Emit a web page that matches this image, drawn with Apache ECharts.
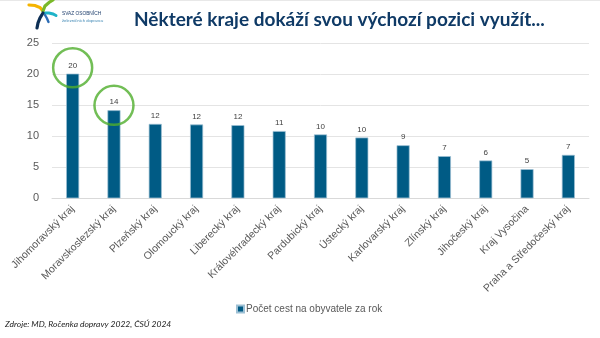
<!DOCTYPE html>
<html>
<head>
<meta charset="utf-8">
<script src="https://cdn.jsdelivr.net/npm/echarts@6/dist/echarts.min.js"></script>
<style>
  html, body { margin: 0; padding: 0; background: #fff; }
  #chart { width: 600px; height: 338px; }
</style>
</head>
<body>
<div id="chart"></div>
<script>
// ---- data ----
const categories = [
  'Jihomoravský kraj', 'Moravskoslezský kraj', 'Plzeňský kraj', 'Olomoucký kraj',
  'Liberecký kraj', 'Královéhradecký kraj', 'Pardubický kraj', 'Ústecký kraj',
  'Karlovarský kraj', 'Zlínský kraj', 'Jihočeský kraj', 'Kraj Vysočina',
  'Praha a Středočeský kraj'
];
const tripsPerCapita = [20.1, 14.2, 12.0, 11.9, 11.8, 10.85, 10.3, 9.8, 8.55, 6.8, 6.1, 4.7, 7.0];
const seriesName = 'Počet cest na obyvatele za rok';
// highlight circles (category index, value at circle centre)
const highlightCircles = [[0, 21.05], [1, 15.0]];
const yTicks = { min: 0, max: 25, interval: 5 };
const titleText = 'Některé kraje dokáží svou výchozí pozici využít...';
const sourceText = 'Zdroje: MD, Ročenka dopravy 2022, ČSÚ 2024';

const chart = echarts.init(document.getElementById('chart'), null, { renderer: 'canvas' });

const option = {
  backgroundColor: '#ffffff',
  animation: false,
  title: {
    text: titleText,
    left: 129,
    top: 5,
    textStyle: { fontFamily: 'Lato', fontWeight: 'bold', fontSize: 19, color: '#0f3a66' }
  },
  legend: {
    data: [seriesName],
    left: 231,
    top: 299,
    itemWidth: 7,
    itemHeight: 7,
    itemGap: 4,
    icon: 'rect',
    textStyle: { fontFamily: 'Liberation Sans', fontSize: 10, color: '#595959', padding: [0, 0, 0, -3] }
  },
  grid: { left: 52, right: 11, top: 43.3, bottom: 139.7, containLabel: false },
  xAxis: {
    type: 'category',
    data: categories,
    axisTick: { show: false },
    axisLine: { lineStyle: { color: '#d9d9d9', width: 1 } },
    axisLabel: {
      rotate: 45,
      interval: 0,
      margin: 9,
      fontFamily: 'Liberation Sans',
      fontSize: 10.5,
      color: '#595959'
    }
  },
  yAxis: {
    type: 'value',
    min: yTicks.min,
    max: yTicks.max,
    interval: yTicks.interval,
    axisLine: { show: false },
    axisTick: { show: false },
    splitLine: { lineStyle: { color: '#e4e4e4', width: 1 } },
    axisLabel: { fontFamily: 'Liberation Sans', fontSize: 11, color: '#595959', margin: 13 }
  },
  series: [
    {
      name: seriesName,
      type: 'bar',
      data: tripsPerCapita,
      barWidth: 13,
      itemStyle: { color: '#005b85', borderColor: '#9dc0d4', borderWidth: 0.7 },
      label: {
        show: true,
        position: 'top',
        distance: 4,
        fontFamily: 'Liberation Sans',
        fontSize: 8,
        color: '#404040',
        formatter: p => Math.round(p.value)
      }
    },
    {
      name: 'highlight',
      type: 'scatter',
      data: highlightCircles,
      symbol: 'circle',
      symbolSize: 39,
      silent: true,
      z: 10,
      itemStyle: { color: 'rgba(0,0,0,0)', borderColor: '#4fae2c', borderWidth: 2.5 }
    }
  ],
  graphic: [
    { type: 'line', shape: { x1: 0, y1: 0.5, x2: 600, y2: 0.5 }, style: { stroke: '#e8e8e8', lineWidth: 1 } },
    // logo
    { type: 'polyline', shape: { points: [[29, 5], [35, 5.5], [40, 7.5], [43, 11]] }, style: { stroke: '#f5b400', lineWidth: 3.2, fill: null, lineCap: 'round' } },
    { type: 'polyline', shape: { points: [[43, 11], [45, 6], [49, 2.5], [53, 0]] }, style: { stroke: '#7ab929', lineWidth: 3.2, fill: null, lineCap: 'round' } },
    { type: 'polyline', shape: { points: [[45, 13], [49, 13], [53, 14], [56, 15.5]] }, style: { stroke: '#1fb3c8', lineWidth: 3, fill: null, lineCap: 'round' } },
    { type: 'polyline', shape: { points: [[43, 13], [40, 18], [38, 23], [37, 28]] }, style: { stroke: '#0d2f55', lineWidth: 3.2, fill: null, lineCap: 'round' } },
    { type: 'polyline', shape: { points: [[45, 15], [47, 18.5], [48.5, 22]] }, style: { stroke: '#2d6db5', lineWidth: 2.4, fill: null, lineCap: 'round' } },
    { type: 'text', left: 62, top: 11, style: { text: 'SVAZ OSOBNÍCH', fontFamily: 'Liberation Sans', fontSize: 4.8, fill: '#1d3d6b', letterSpacing: 0.8 } },
    { type: 'text', left: 62, top: 18.5, style: { text: 'železničních dopravců', fontFamily: 'Liberation Sans', fontSize: 4.2, fill: '#3f88b5' } },
    // source
    { type: 'text', left: 5, top: 320, style: { text: sourceText, fontFamily: 'Lato', fontStyle: 'italic', fontSize: 8.5, fill: '#222222' } }
  ]
};

chart.setOption(option);
</script>
</body>
</html>
